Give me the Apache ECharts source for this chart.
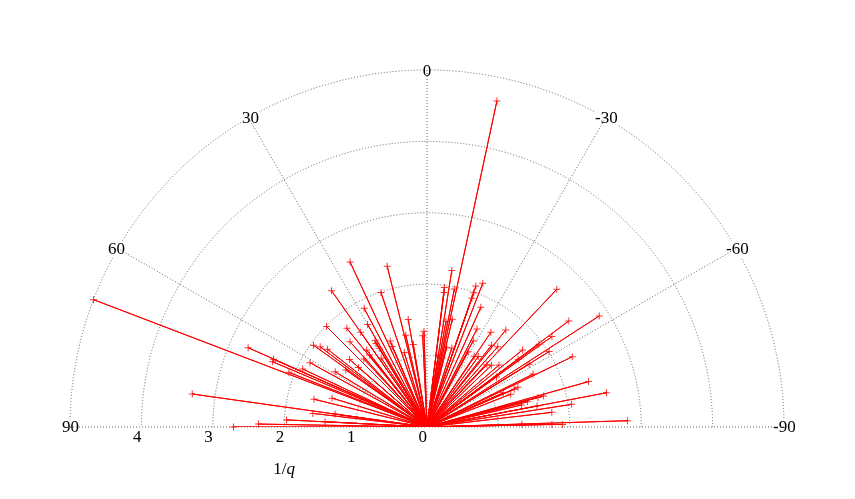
<!DOCTYPE html>
<html>
<head>
<meta charset="utf-8">
<script src="https://cdn.jsdelivr.net/npm/echarts@6/dist/echarts.min.js"></script>
<style>
  html, body { margin: 0; padding: 0; background: #fff; }
  #chart { width: 855px; height: 499px; }
</style>
</head>
<body>
<div id="chart"></div>
<script>
// angle of each spoke (deg, 0 = up, positive to the left) and its length 1/q
let theta = [
  69.1, 82.0, 66.1, 66.2, 67.1, 68.4, 65.0, 61.2, 54.2, 53.1,
  52.0, 45.0, 35.0, 25.0, 13.9, 18.9, 27.9, 9.9, 30.1, 39.1,
  35.0, 1.8, 2.7, 13.0, 9.4, 23.2, 31.1, 31.4, 42.1, 38.1,
  31.2, 38.7, 17.0, 33.6, 42.9, 48.9, 54.9, 49.0, 59.0, 76.2,
  73.1, 83.2, 82.0, 87.1, 87.0, 89.0, 90.0, 23.4,
  -12.1, -9.0, -7.1, -7.2, -11.2, -19.1, -21.2, -19.2, -19.2, -24.2,
  -43.3, -10.2, -13.2, -27.0, -34.0, -39.1, -53.2, -57.2, -28.2, -13.9,
  -17.4, -8.9, -38.3, -41.4, -28.7, -33.7, -36.1, -51.1, -54.1, -53.5,
  -58.3, -53.4, -58.4, -64.2, -43.9, -46.2, -49.3, -54.2, -63.5, -74.3,
  -66.4, -66.6, -65.8, -68.6, -79.2, -75.1, -75.1, -75.9, -76.9, -81.1,
  -79.2, -83.3, -88.2, -88.4, -88.8, -88.9
];
let invQ = [
  5.00, 3.32, 2.74, 2.35, 2.35, 2.08, 1.92, 1.87, 1.96, 1.87,
  1.77, 1.99, 2.33, 2.55, 2.32, 1.99, 1.88, 1.53, 1.66, 1.78,
  1.62, 1.34, 1.28, 1.32, 1.17, 1.31, 1.41, 1.37, 1.61, 1.37,
  1.29, 1.29, 1.09, 1.16, 1.30, 1.44, 1.39, 1.27, 1.50, 1.63,
  1.39, 1.61, 1.30, 1.97, 1.43, 2.36, 2.71, 1.23,
  4.67, 2.22, 1.97, 1.90, 1.97, 2.09, 2.16, 1.99, 1.91, 1.84,
  2.65, 1.50, 1.55, 1.54, 1.60, 1.75, 2.48, 2.87, 1.37, 1.15,
  1.16, 1.02, 1.46, 1.50, 1.20, 1.19, 1.22, 1.72, 2.16, 1.95,
  2.01, 1.59, 1.68, 2.26, 1.21, 1.25, 1.33, 1.20, 1.66, 2.35,
  1.39, 1.33, 1.17, 1.26, 2.56, 1.69, 1.61, 1.45, 1.36, 2.05,
  1.57, 1.76, 2.81, 1.33, 1.75, 1.90
];
let angleTicks = [-90, 90, 30];   // min, max, step
let radiusTicks = [0, 5, 1];

let font = "'Liberation Serif', 'DejaVu Serif', serif";
let grid = { color: "#666", type: [1, 2], width: 1 };

// center -> tip -> center -> tip ... gives one spoke per point
let spokes = [];
let tips = [];
for (let i = 0; i < theta.length; i++) {
  spokes.push([0, theta[i]]);
  spokes.push([invQ[i], theta[i]]);
  tips.push([invQ[i], theta[i]]);
}

// angle labels sit centred on the outer ring: nudge each one with
// empty spacer tokens [top, right, bottom, left]
let nudge = {
  "0": [0, 0, 11, 0],
  "30": [0, 0, 9, 0],
  "60": [0, 11, 1, 0],
  "90": [2, 12, 0, 0],
  "-30": [0, 0, 9, 0],
  "-60": [0, 0, 1, 8],
  "-90": [2, 0, 0, 10]
};
let rich = {
  t: { fontFamily: font, fontSize: 17, color: "#000", backgroundColor: "#fff" }
};
for (let n = 1; n <= 12; n++) {
  rich["h" + n] = { width: n, fontSize: 1, lineHeight: 1 };
  rich["v" + n] = { fontSize: 1, lineHeight: n };
}
function angleLabel(v) {
  let s = nudge[String(v)] || [0, 0, 0, 0];
  let line = (s[3] ? "{h" + s[3] + "| }" : "") + "{t|" + v + "}" + (s[1] ? "{h" + s[1] + "| }" : "");
  if (s[0]) line = "{v" + s[0] + "| }\n" + line;
  if (s[2]) line = line + "\n{v" + s[2] + "| }";
  return line;
}

let chart = echarts.init(document.getElementById("chart"));
let option = {
  animation: false,
  backgroundColor: "#fff",
  polar: [
    { center: [427, 427], radius: 357 },
    { center: [427, 427], radius: 285.6 }
  ],
  angleAxis: [
    {
      polarIndex: 0,
      type: "value",
      min: angleTicks[0],
      max: angleTicks[1],
      interval: angleTicks[2],
      startAngle: 0,
      endAngle: 180,
      clockwise: false,
      z: 2,
      axisLine: { show: false },
      axisTick: { show: false },
      axisLabel: {
        margin: -21,
        formatter: angleLabel,
        rich: rich
      },
      splitLine: { show: true, lineStyle: grid }
    },
    {
      polarIndex: 1,
      type: "value",
      min: 0,
      max: 1,
      startAngle: 180,
      endAngle: 0,
      show: false
    }
  ],
  radiusAxis: [
    {
      polarIndex: 0,
      type: "value",
      min: radiusTicks[0],
      max: radiusTicks[1],
      interval: radiusTicks[2],
      z: 1,
      axisLine: { show: false },
      axisTick: { show: false },
      axisLabel: { show: false },
      splitLine: { show: true, lineStyle: grid }
    },
    {
      polarIndex: 1,
      type: "value",
      min: 0,
      max: 4,
      interval: 1,
      name: "1/{i|q}",
      nameLocation: "middle",
      nameGap: -51,
      nameRotate: 0,
      nameTextStyle: {
        color: "#000",
        fontFamily: font,
        fontSize: 17,
        rich: { i: { fontStyle: "italic", fontFamily: font, fontSize: 17, color: "#000" } }
      },
      axisLine: { show: false },
      axisTick: { show: false },
      splitLine: { show: false },
      axisLabel: {
        align: "right",
        margin: 2,
        color: "#000",
        fontFamily: font,
        fontSize: 17
      }
    }
  ],
  series: [
    {
      type: "line",
      coordinateSystem: "polar",
      polarIndex: 0,
      data: spokes,
      symbol: "none",
      clip: false,
      silent: true,
      lineStyle: { color: "#ff0000", width: 1 },
      z: 3
    },
    {
      type: "scatter",
      coordinateSystem: "polar",
      polarIndex: 0,
      data: tips,
      symbol: "path://M6,0H8V6H14V8H8V14H6V8H0V6H6Z",
      symbolSize: 7,
      clip: false,
      silent: true,
      itemStyle: { color: "#ff0000" },
      z: 4
    }
  ]
};
chart.setOption(option);
</script>
</body>
</html>
